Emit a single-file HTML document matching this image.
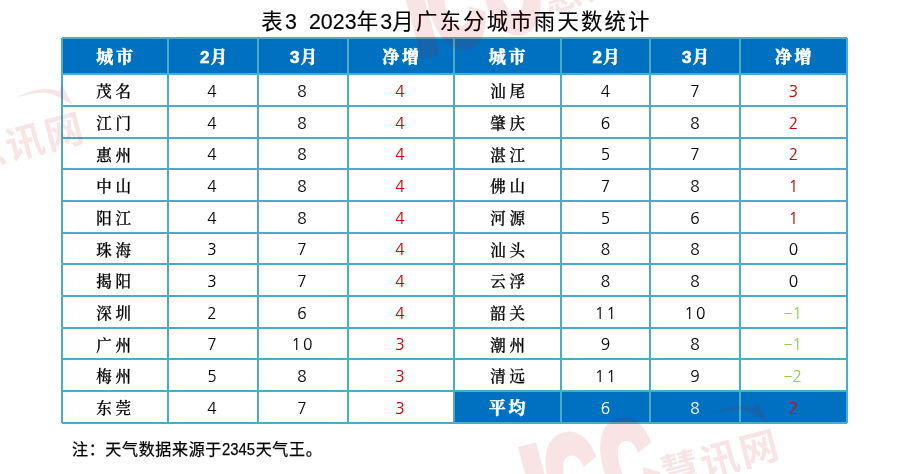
<!DOCTYPE html>
<html lang="zh-CN"><head><meta charset="utf-8"><title>表3 2023年3月广东分城市雨天数统计</title>
<style>
html,body{margin:0;padding:0;background:#fff;}
body{width:900px;height:474px;position:relative;overflow:hidden;font-family:"Liberation Sans","Noto Sans CJK SC",sans-serif;}
#title{position:absolute;left:0;top:8px;width:900px;text-align:center;font-size:21.33px;line-height:28px;color:#000;letter-spacing:2.25px;padding-left:13px;box-sizing:border-box;white-space:pre;-webkit-text-stroke:0.15px #000;}
table{position:absolute;left:61px;top:37px;border-collapse:collapse;table-layout:fixed;width:787px;}
td,th{border:2px solid #4bacc6;padding:0;text-align:center;vertical-align:middle;font-size:16px;line-height:20px;color:#000;}
tr{height:31.65px;}
tr.hd{height:36px;}
th{background:#0070c0;color:#fff;font-weight:700;-webkit-text-stroke:0.55px #fff;font-family:"Liberation Serif","Noto Serif CJK SC",serif;font-size:17px;letter-spacing:2.7px;padding:4px 0 0 2px;}
th.m{font-family:"Liberation Sans","Noto Serif CJK SC",serif;letter-spacing:0.8px;}
td.c{font-family:"Liberation Serif","Noto Serif CJK SC",serif;font-weight:500;-webkit-text-stroke:0.25px #000;font-size:15.5px;letter-spacing:3.8px;padding:4px 0 0 1px;}
td.n{font-family:"NanumGothic","Liberation Sans",sans-serif;font-size:15.5px;letter-spacing:2.2px;padding:3px 0 0 0;-webkit-text-stroke:0.1px currentColor;}
td.n .d{display:inline-block;transform:scale(1.7,0.7);position:relative;left:1px;}
td.c.R{padding-left:4px;}
td.n.R{padding-left:2px;}
td.r{color:#c00000;}
td.g{color:#92d050;}
td.avg{background:#0070c0;color:#fff;}
td.avg.h{font-weight:700;-webkit-text-stroke:0.55px #fff;font-size:17px;letter-spacing:2.7px;padding:3px 0 0 2px;}
td.avg.r2{color:#f00000;}
#title b{font-weight:normal;letter-spacing:0.1px;}
i.k{position:absolute;width:1px;height:1px;background:#fff;}
#note{position:absolute;left:72px;top:438px;font-size:16px;line-height:24px;color:#000;white-space:nowrap;letter-spacing:0.67px;-webkit-text-stroke:0.25px #000;}
#note b{font-weight:normal;font-size:17px;letter-spacing:0;display:inline-block;width:33.6px;transform-origin:0 50%;transform:scaleX(0.875);}
svg#wm{position:absolute;left:0;top:0;width:900px;height:474px;pointer-events:none;opacity:0.105;}
svg#wm text, svg#wm path{fill:#c00a0a;}
svg#wm .icc{font-family:"Liberation Sans",sans-serif;font-weight:bold;font-size:100px;}
svg#wm .cc{stroke:#c00a0a;stroke-width:9px;stroke-linejoin:miter;}
svg#wm .hx{font-family:"Noto Sans CJK SC","WenQuanYi Zen Hei",sans-serif;font-weight:700;font-size:38.5px;letter-spacing:2px;stroke:none;}
</style></head><body>
<div id="title">表<b>3  2023</b>年<b>3</b>月广东分城市雨天数统计</div>
<table>
<colgroup><col style="width:106px"><col style="width:90px"><col style="width:90px"><col style="width:106px"><col style="width:107px"><col style="width:89px"><col style="width:90px"><col style="width:107px"></colgroup>
<tr class="hd"><th>城市</th><th class="m">2月</th><th class="m">3月</th><th>净增</th><th>城市</th><th class="m">2月</th><th class="m">3月</th><th>净增</th></tr>
<tr style="height:32px"><td class="c">茂名</td><td class="n">4</td><td class="n">8</td><td class="n r">4</td><td class="c R">汕尾</td><td class="n R">4</td><td class="n R">7</td><td class="n r R">3</td></tr>
<tr style="height:32px"><td class="c">江门</td><td class="n">4</td><td class="n">8</td><td class="n r">4</td><td class="c R">肇庆</td><td class="n R">6</td><td class="n R">8</td><td class="n r R">2</td></tr>
<tr style="height:31px"><td class="c">惠州</td><td class="n">4</td><td class="n">8</td><td class="n r">4</td><td class="c R">湛江</td><td class="n R">5</td><td class="n R">7</td><td class="n r R">2</td></tr>
<tr style="height:32px"><td class="c">中山</td><td class="n">4</td><td class="n">8</td><td class="n r">4</td><td class="c R">佛山</td><td class="n R">7</td><td class="n R">8</td><td class="n r R">1</td></tr>
<tr style="height:32px"><td class="c">阳江</td><td class="n">4</td><td class="n">8</td><td class="n r">4</td><td class="c R">河源</td><td class="n R">5</td><td class="n R">6</td><td class="n r R">1</td></tr>
<tr style="height:31px"><td class="c">珠海</td><td class="n">3</td><td class="n">7</td><td class="n r">4</td><td class="c R">汕头</td><td class="n R">8</td><td class="n R">8</td><td class="n R">0</td></tr>
<tr style="height:32px"><td class="c">揭阳</td><td class="n">3</td><td class="n">7</td><td class="n r">4</td><td class="c R">云浮</td><td class="n R">8</td><td class="n R">8</td><td class="n R">0</td></tr>
<tr style="height:32px"><td class="c">深圳</td><td class="n">2</td><td class="n">6</td><td class="n r">4</td><td class="c R">韶关</td><td class="n R">11</td><td class="n R">10</td><td class="n g R"><span class="d">-</span>1</td></tr>
<tr style="height:31px"><td class="c">广州</td><td class="n">7</td><td class="n">10</td><td class="n r">3</td><td class="c R">潮州</td><td class="n R">9</td><td class="n R">8</td><td class="n g R"><span class="d">-</span>1</td></tr>
<tr style="height:32px"><td class="c">梅州</td><td class="n">5</td><td class="n">8</td><td class="n r">3</td><td class="c R">清远</td><td class="n R">11</td><td class="n R">9</td><td class="n g R"><span class="d">-</span>2</td></tr>
<tr class="last" style="height:32px"><td class="c">东莞</td><td class="n">4</td><td class="n">7</td><td class="n r">3</td><td class="c avg h">平均</td><td class="n R avg">6</td><td class="n R avg">8</td><td class="n R avg r2">2</td></tr>
</table>
<i class="k" style="left:61px;top:37px"></i><i class="k" style="left:847px;top:37px"></i><i class="k" style="left:61px;top:423px"></i><i class="k" style="left:847px;top:423px"></i>
<div id="note">注：天气数据来源于<b>2345</b>天气王。</div>
<svg id="wm" viewBox="0 0 900 474">
<g transform="translate(518,448) rotate(-15)">
<text class="icc" transform="translate(0,90) scale(1.30,1.32)" x="-6.66" y="0">I</text>
<text class="icc cc" transform="translate(20.6,85.6) scale(0.715,1.195)" x="0" y="0">C</text>
<text class="icc cc" transform="translate(77.2,85.6) scale(0.715,1.195)" x="0" y="0">C</text>
<text class="hx" x="132.2" y="77">慧讯网</text>
<path d="M194.9,17.6 Q208,14.2 223.6,16.5 Q233,18.6 238.4,22.9 L242.8,16.4 L247.8,39.3 L235.4,27.4 Q230,22.3 224.5,20.3 Q211,17 194.9,17.6 Z"/>
</g>
<g transform="translate(398.3,-27.3) rotate(-15)">
<text class="icc" transform="translate(0,90) scale(1.30,1.32)" x="-6.66" y="0">I</text>
<text class="icc cc" transform="translate(20.6,85.6) scale(0.715,1.195)" x="0" y="0">C</text>
<text class="icc cc" transform="translate(77.2,85.6) scale(0.715,1.195)" x="0" y="0">C</text>
<text class="hx" x="132.2" y="77">慧讯网</text>
<path d="M194.9,17.6 Q208,14.2 223.6,16.5 Q233,18.6 238.4,22.9 L242.8,16.4 L247.8,39.3 L235.4,27.4 Q230,22.3 224.5,20.3 Q211,17 194.9,17.6 Z"/>
</g>
<g transform="translate(-177,131) rotate(-15)">
<text class="icc" transform="translate(0,90) scale(1.30,1.32)" x="-6.66" y="0">I</text>
<text class="icc cc" transform="translate(20.6,85.6) scale(0.715,1.195)" x="0" y="0">C</text>
<text class="icc cc" transform="translate(77.2,85.6) scale(0.715,1.195)" x="0" y="0">C</text>
<text class="hx" x="132.2" y="77">慧讯网</text>
<path d="M194.9,17.6 Q208,14.2 223.6,16.5 Q233,18.6 238.4,22.9 L242.8,16.4 L247.8,39.3 L235.4,27.4 Q230,22.3 224.5,20.3 Q211,17 194.9,17.6 Z"/>
</g>
</svg>
</body></html>
